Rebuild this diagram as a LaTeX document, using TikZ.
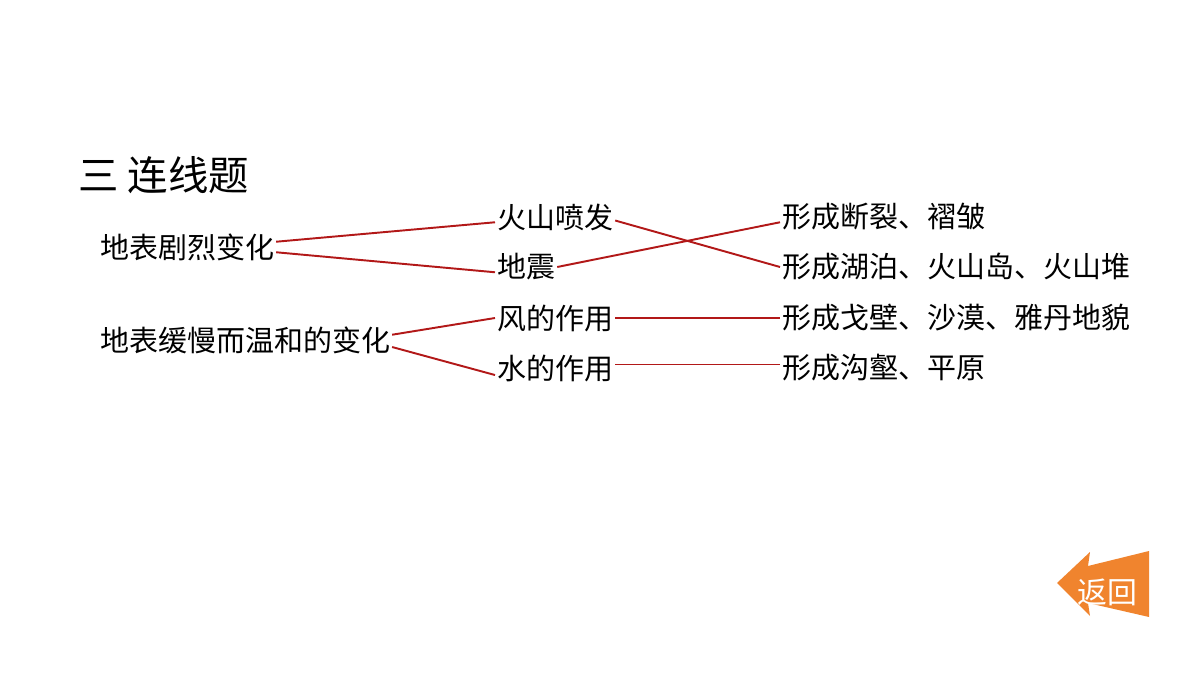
\documentclass[tikz,border=0pt]{standalone}
\usepackage{fontspec}
\setmainfont{Noto Sans CJK SC}
\usetikzlibrary{positioning}
\definecolor{linkred}{RGB}{178,24,24}
\definecolor{backorange}{RGB}{240,132,46}
\tikzset{
    item/.style={inner sep=1pt,font=\fontsize{16.5}{18}\selectfont},
    link/.style={draw=linkred,line width=1.1pt},
}
\begin{document}
\begin{tikzpicture}[x=0.02cm,y=-0.02cm]
    \useasboundingbox (0,0) rectangle (1200,675);
    \node[anchor=west,inner sep=0pt,font=\fontsize{23}{25}\selectfont] (title) at (78,175) {三 连线题};
    % left column
    \node[item,anchor=west] (fast) at (98,247) {地表剧烈变化};
    \node[item,anchor=west] (slow) at (98,340) {地表缓慢而温和的变化};
    % middle column
    \node[item,anchor=west] (volc) at (495,217) {火山喷发};
    \node[item,anchor=west] (quake) at (495,267) {地震};
    \node[item,anchor=west] (wind) at (495,318) {风的作用};
    \node[item,anchor=west] (water) at (495,368) {水的作用};
    % right column
    \node[item,anchor=west] (fault) at (780,217) {形成断裂、褶皱};
    \node[item,anchor=west] (lake) at (780,267) {形成湖泊、火山岛、火山堆};
    \node[item,anchor=west] (desert) at (780,318) {形成戈壁、沙漠、雅丹地貌};
    \node[item,anchor=west] (gully) at (780,368) {形成沟壑、平原};
    % links
    \draw[link] ([yshift=3pt]fast.east) -- ([yshift=-3pt]volc.west);
    \draw[link] ([yshift=-3pt]fast.east) -- ([yshift=-3pt]quake.west);
    \draw[link] ([yshift=3pt]slow.east) -- (wind.west);
    \draw[link] ([yshift=-4pt]slow.east) -- ([yshift=-4pt]water.west);
    \draw[link] ([yshift=-2pt]volc.east) -- (lake.west);
    \draw[link] (quake.east) -- ([yshift=-3pt]fault.west);
    \draw[link] (wind.east) -- (desert.west);
    \draw[link] ([yshift=2pt]water.east) -- ([yshift=2pt]gully.west);
    % return button
    \fill[backorange] (1057,583) -- (1090,552) -- (1088,566) -- (1149,551)
        -- (1149,617) -- (1088,603) -- (1090,616) -- cycle;
    \node[text=white,inner sep=0pt,font=\fontsize{17}{19}\selectfont] (back) at (1107,592) {返回};
\end{tikzpicture}
\end{document}
